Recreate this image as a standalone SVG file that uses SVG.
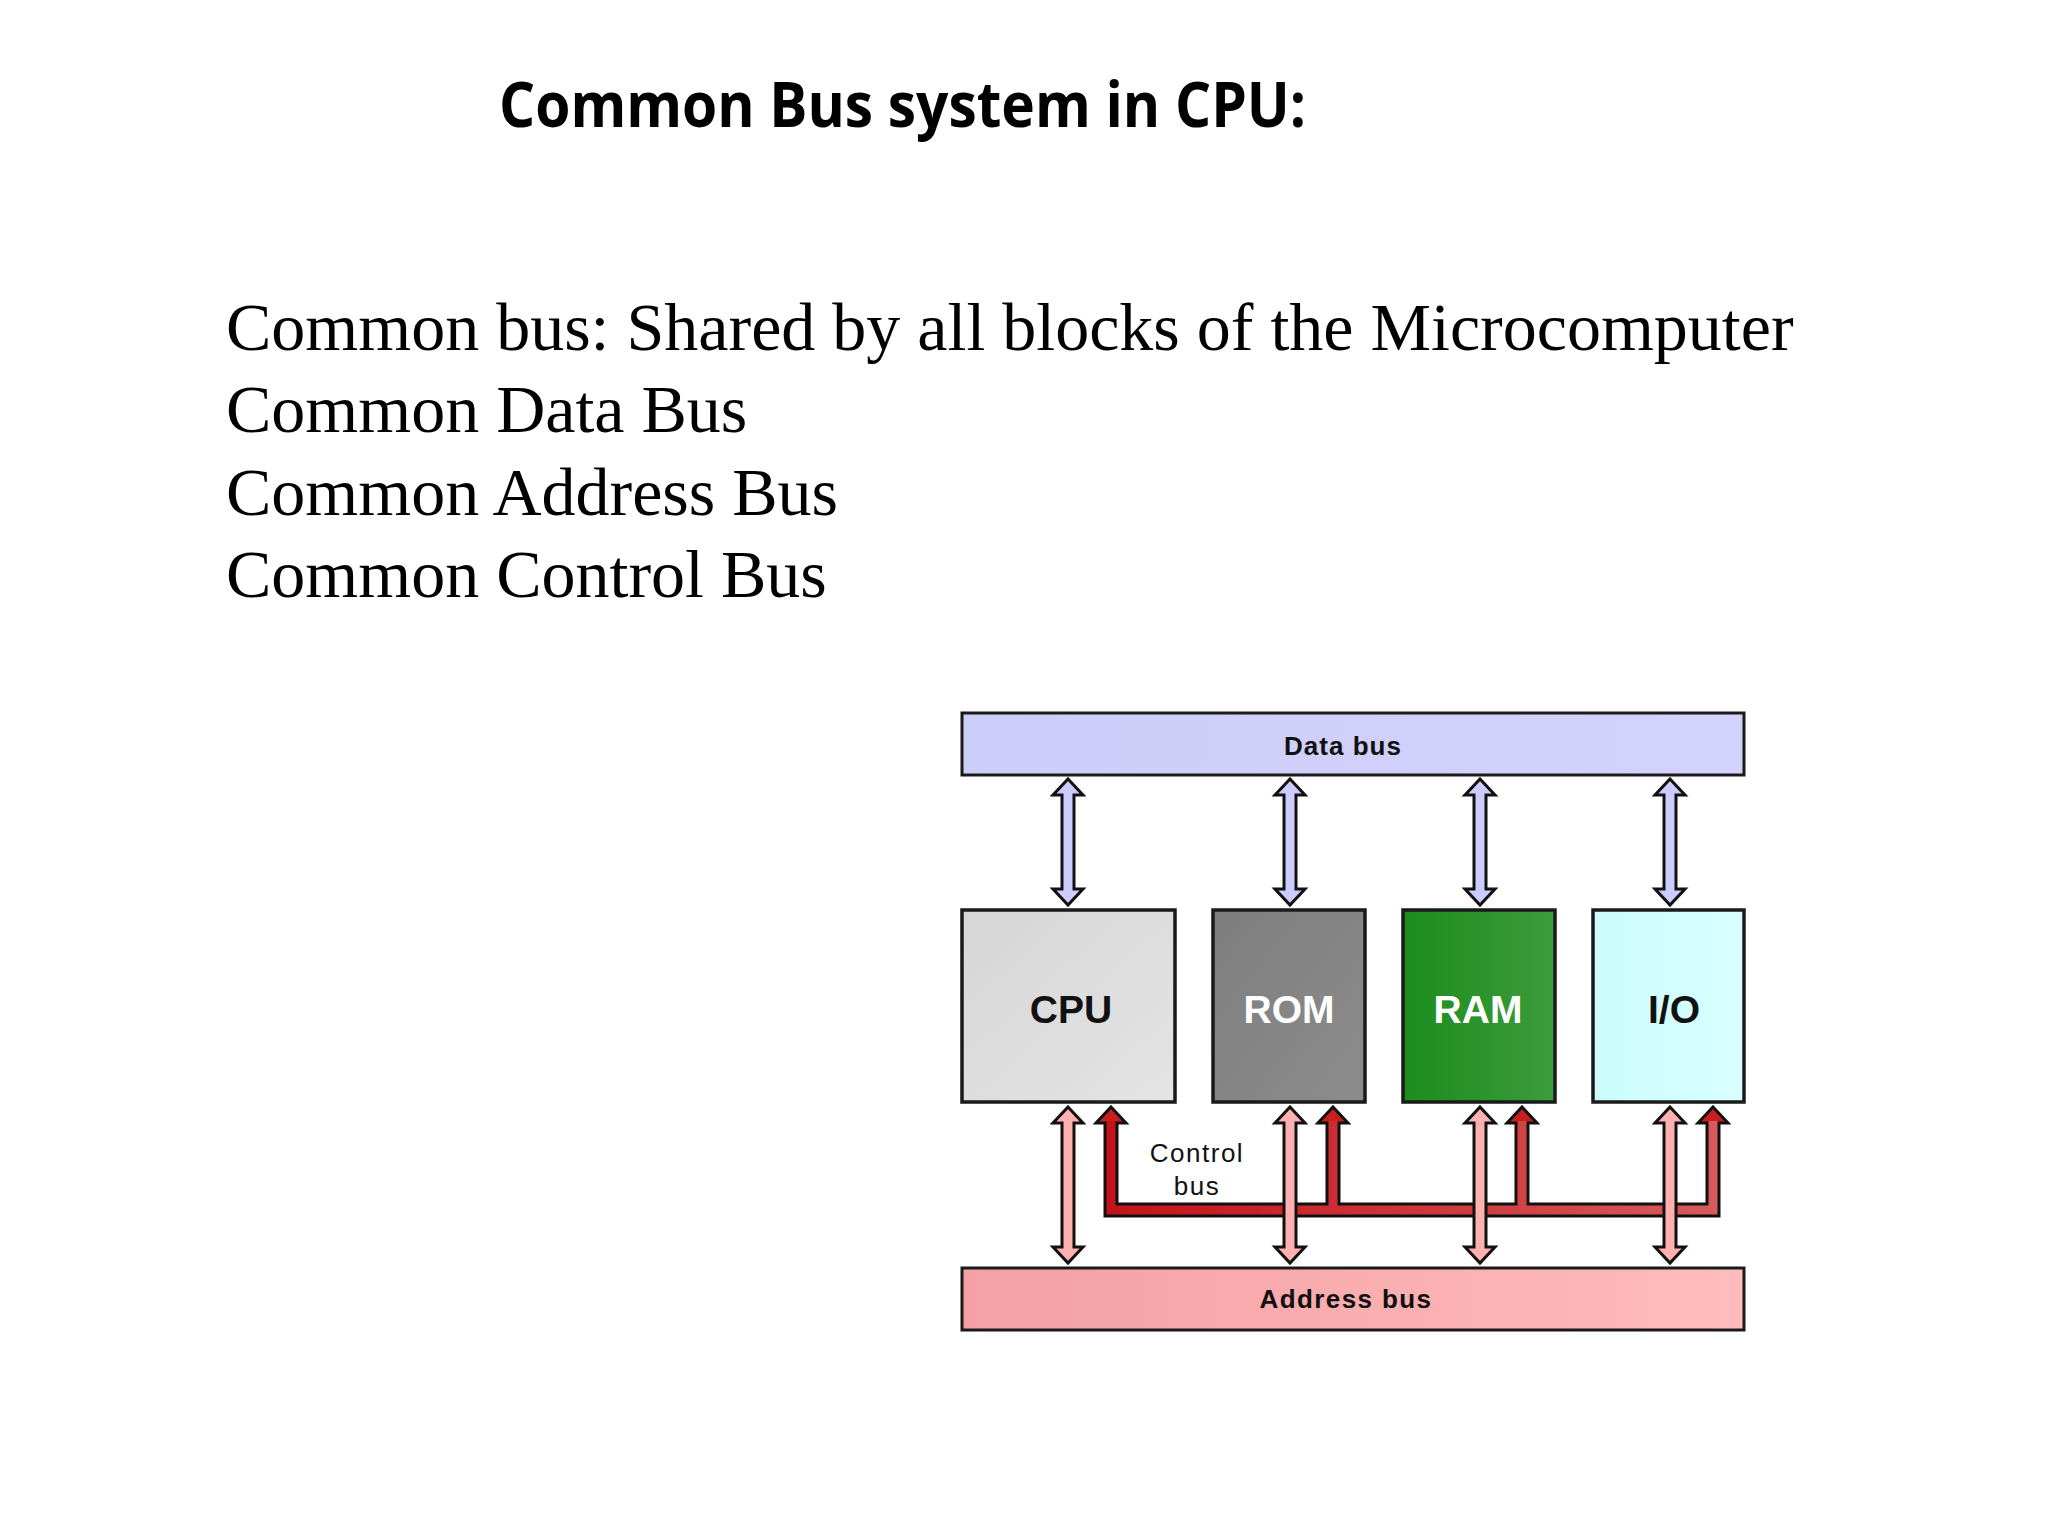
<svg xmlns="http://www.w3.org/2000/svg" width="2048" height="1536" viewBox="0 0 2048 1536">
<style>
.title{font-family:"Open Sans","Liberation Sans",sans-serif;font-weight:bold;font-size:62px;fill:#000}
.body{font-family:"Liberation Serif","Times New Roman",serif;font-size:68px;fill:#000}
.bus{stroke:#1a1a1a;stroke-width:3}
.box{stroke:#1a1a1a;stroke-width:3.5}
.blabel{font-family:"Liberation Sans",Arial,sans-serif;font-weight:bold;font-size:26px;fill:#111;text-anchor:middle}
.nlabel{font-family:"Liberation Sans",Arial,sans-serif;font-weight:bold;font-size:39px;text-anchor:middle}
.clabel{font-family:"Liberation Sans",Arial,sans-serif;font-size:26px;fill:#111;text-anchor:middle;letter-spacing:1.5px}
.darrow{fill:#ccccff;stroke:#111;stroke-width:3;stroke-linejoin:miter}
.aarrow{fill:#ffb0b0;stroke:#111;stroke-width:3;stroke-linejoin:miter}
.chead{fill:#c81e1e;stroke:#111;stroke-width:3;stroke-linejoin:miter}
</style>
<defs>
<linearGradient id="gCpu" x1="0" y1="0" x2="1" y2="1"><stop offset="0" stop-color="#d6d6d6"/><stop offset="1" stop-color="#e4e4e4"/></linearGradient>
<linearGradient id="gRom" x1="0" y1="0" x2="1" y2="1"><stop offset="0" stop-color="#7e7e7e"/><stop offset="1" stop-color="#8c8c8c"/></linearGradient>
<linearGradient id="gRam" x1="0" y1="0" x2="1" y2="0"><stop offset="0" stop-color="#1d8c1d"/><stop offset="1" stop-color="#3c9c3c"/></linearGradient>
<linearGradient id="gIo" x1="0" y1="0" x2="1" y2="0"><stop offset="0" stop-color="#ccfcfc"/><stop offset="1" stop-color="#d8ffff"/></linearGradient>
<linearGradient id="gData" x1="0" y1="0" x2="1" y2="0"><stop offset="0" stop-color="#cdcdf9"/><stop offset="1" stop-color="#d2d2fb"/></linearGradient>
<linearGradient id="gAddr" x1="0" y1="0" x2="1" y2="0"><stop offset="0" stop-color="#f4a0a4"/><stop offset="1" stop-color="#ffbcbc"/></linearGradient>
<linearGradient id="gCtl" gradientUnits="userSpaceOnUse" x1="1104" y1="0" x2="1719" y2="0"><stop offset="0" stop-color="#c4121a"/><stop offset="1" stop-color="#d85a5a"/></linearGradient>
<path id="dArr" d="M0,0 L15,16 L6,16 L6,110 L15,110 L0,126 L-15,110 L-6,110 L-6,16 L-15,16 Z"/>
<path id="aArr" d="M0,0 L15,16 L6,16 L6,140 L15,140 L0,156 L-15,140 L-6,140 L-6,16 L-15,16 Z"/>
<path id="cHead" d="M0,0 L15,16 L-15,16 Z"/>
</defs>
<rect width="2048" height="1536" fill="#fff"/>

<g id="title"><text class="title" x="499" y="127" textLength="807" lengthAdjust="spacingAndGlyphs">Common Bus system in CPU:</text></g>
<g id="body">
<text class="body" x="226" y="350">Common bus: Shared by all blocks of the Microcomputer</text>
<text class="body" x="226" y="432">Common Data Bus</text>
<text class="body" x="226" y="515">Common Address Bus</text>
<text class="body" x="226" y="597">Common Control Bus</text>
</g>

<g id="data-bus"><rect class="bus" x="962" y="713" width="782" height="62" fill="url(#gData)"/><text class="blabel" x="1343" y="755" letter-spacing="1">Data bus</text></g>
<g id="cpu"><rect class="box" x="962" y="910" width="213" height="192" fill="url(#gCpu)"/><text class="nlabel" x="1071" y="1023" fill="#111">CPU</text></g>
<g id="rom"><rect class="box" x="1213" y="910" width="152" height="192" fill="url(#gRom)"/><text class="nlabel" x="1289" y="1023" fill="#fff">ROM</text></g>
<g id="ram"><rect class="box" x="1403" y="910" width="152" height="192" fill="url(#gRam)"/><text class="nlabel" x="1478" y="1023" fill="#fff">RAM</text></g>
<g id="io"><rect class="box" x="1593" y="910" width="151" height="192" fill="url(#gIo)"/><text class="nlabel" x="1674" y="1023" fill="#111">I/O</text></g>
<g id="address-bus"><rect class="bus" x="962" y="1268" width="782" height="62" fill="url(#gAddr)"/><text class="blabel" x="1346" y="1308" letter-spacing="1.4">Address bus</text></g>
<g id="control-label"><text class="clabel" x="1197" y="1162">Control</text><text class="clabel" x="1197" y="1195">bus</text></g>

<g id="connectors">
<use href="#dArr" x="1068" y="779" class="darrow"/>
<use href="#dArr" x="1290" y="779" class="darrow"/>
<use href="#dArr" x="1480" y="779" class="darrow"/>
<use href="#dArr" x="1670" y="779" class="darrow"/>
<path d="M1111,1123 V1210 H1713 V1123 M1333,1210 V1123 M1522,1210 V1123" fill="none" stroke="#111" stroke-width="15" stroke-linejoin="miter"/>
<use href="#cHead" x="1111" y="1107" class="chead"/>
<use href="#cHead" x="1333" y="1107" class="chead"/>
<use href="#cHead" x="1522" y="1107" class="chead"/>
<use href="#cHead" x="1713" y="1107" class="chead"/>
<path d="M1111,1121 V1210 H1713 V1121 M1333,1210 V1121 M1522,1210 V1121" fill="none" stroke="url(#gCtl)" stroke-width="9" stroke-linejoin="miter"/>
<use href="#aArr" x="1068" y="1107" class="aarrow"/>
<use href="#aArr" x="1290" y="1107" class="aarrow"/>
<use href="#aArr" x="1480" y="1107" class="aarrow"/>
<use href="#aArr" x="1670" y="1107" class="aarrow"/>
</g>
</svg>
